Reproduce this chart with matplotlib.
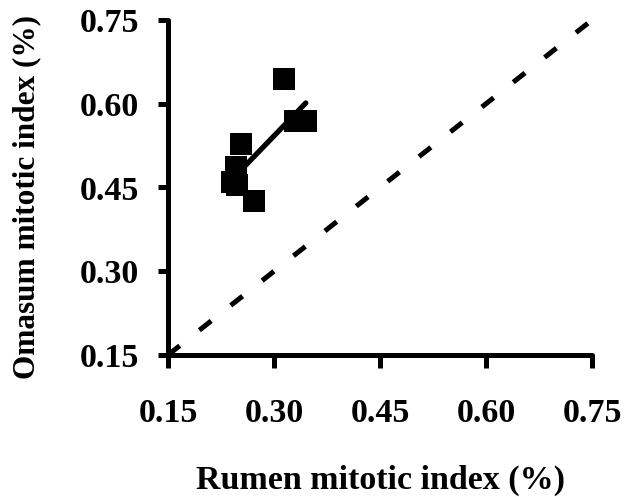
import matplotlib.pyplot as plt
import numpy as np

# data
rumen = [0.314, 0.330, 0.345, 0.254, 0.246, 0.240, 0.248, 0.271]
omasum = [0.645, 0.570, 0.570, 0.528, 0.487, 0.460, 0.455, 0.425]
ticks = [0.15, 0.30, 0.45, 0.60, 0.75]
tick_labels = ['0.15', '0.30', '0.45', '0.60', '0.75']

plt.rcParams['font.family'] = ['Liberation Serif', 'DejaVu Serif']
plt.rcParams['font.weight'] = 'bold'

fig = plt.figure(figsize=(6.24, 4.97), dpi=100)
ax = fig.add_axes([168 / 624, 1 - 355 / 497, (592 - 168) / 624, (355 - 20) / 497])

# line of identity
ax.plot([ticks[0], ticks[-1]], [ticks[0], ticks[-1]], color='black', lw=3.6,
        dashes=[3, 5], dash_capstyle='butt', clip_on=False, zorder=1)

# squares
ax.plot(rumen, omasum, 's', color='black', markersize=15.8, markeredgewidth=0,
        zorder=3)

# regression line
x = np.array(rumen)
slope, icpt = np.polyfit(x, np.array(omasum), 1)
xs = np.array([x.min(), x.max()])
ax.plot(xs, slope * xs + icpt, color='black', lw=3.8, solid_capstyle='round',
        zorder=2)

ax.set_xlim(ticks[0], ticks[-1])
ax.set_ylim(ticks[0], ticks[-1])
ax.set_xticks(ticks)
ax.set_yticks(ticks)
ax.set_xticklabels(tick_labels)
ax.set_yticklabels(tick_labels)

for side in ['top', 'right']:
    ax.spines[side].set_visible(False)
for side in ['left', 'bottom']:
    ax.spines[side].set_linewidth(3.6)
    ax.spines[side].set_capstyle('round')

ax.tick_params(axis='x', direction='out', length=9, width=3.6, pad=22,
               labelsize=24.5)
ax.tick_params(axis='y', direction='out', length=7, width=3.6, pad=14,
               labelsize=24.5)

ax.set_xlabel('Rumen mitotic index (%)', fontsize=24.5, fontweight='bold',
              labelpad=26)
ax.set_ylabel('Omasum mitotic index (%)', fontsize=22.5, fontweight='bold')
ax.yaxis.set_label_coords(-0.30, 0.472)

fig.savefig('out.png', dpi=100)
